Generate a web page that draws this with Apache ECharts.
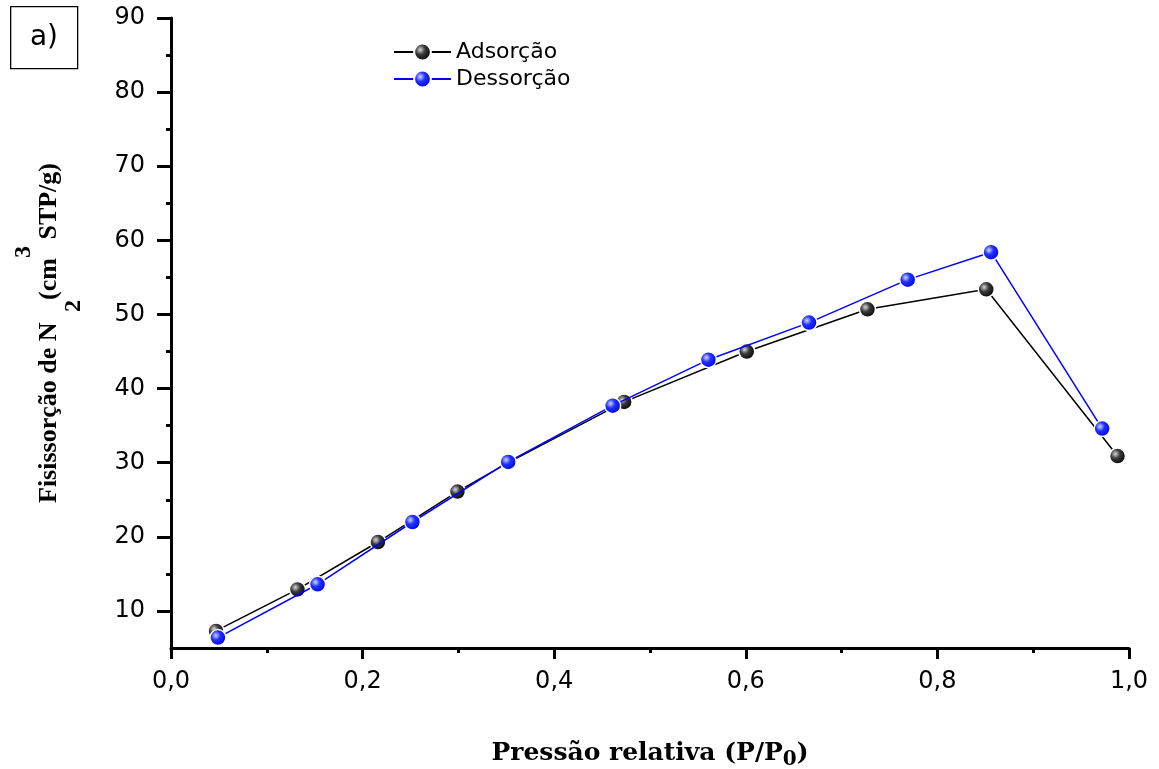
<!DOCTYPE html>
<html>
<head>
<meta charset="utf-8">
<script src="https://cdn.jsdelivr.net/npm/echarts@6/dist/echarts.min.js"></script>
<style>html,body{margin:0;padding:0;background:#fff}#c{width:1159px;height:769px}</style>
</head>
<body>
<div id="c"></div>
<script>
// ---- data ----
var adsX = [0.047, 0.132, 0.216, 0.299, 0.352, 0.473, 0.601, 0.727, 0.851, 0.988];
var adsY = [7.3, 12.9, 19.3, 26.1, 30.0, 38.2, 45.0, 50.7, 53.4, 30.9];
var desX = [0.049, 0.153, 0.252, 0.352, 0.461, 0.561, 0.666, 0.769, 0.856, 0.972];
var desY = [6.4, 13.6, 22.0, 30.1, 37.7, 43.9, 48.9, 54.7, 58.4, 34.6];
var seriesNames = ['Adsorção', 'Dessorção'];
var xTicks = [0, 0.2, 0.4, 0.6, 0.8, 1.0];
var yTicks = [10, 20, 30, 40, 50, 60, 70, 80, 90];
var yMinorTicks = [15, 25, 35, 45, 55, 65, 75, 85];

function pairs(xs, ys) { return xs.map(function (x, i) { return [x, ys[i]]; }); }
function ball(c0, c1, c2) {
  return { type: 'radial', x: 0.38, y: 0.38, r: 0.65,
    colorStops: [{ offset: 0, color: c0 }, { offset: 0.4, color: c1 }, { offset: 1, color: c2 }] };
}

var chart = echarts.init(document.getElementById('c'), null, { renderer: 'canvas' });
var tickFont = 'DejaVu Sans';
chart.setOption({
  animation: false,
  backgroundColor: '#ffffff',
  grid: { left: 171, right: 30, top: 18, bottom: 121, containLabel: false, outerBoundsMode: 'none' },
  legend: {
    orient: 'vertical', left: 393, top: 41, padding: 0, itemWidth: 57, itemHeight: 21, itemGap: 5,
    textStyle: { fontFamily: tickFont, fontSize: 22, color: '#000' },
    data: seriesNames
  },
  xAxis: {
    type: 'value', min: 0, max: 1, interval: 0.2,
    name: '{t|Pressão relativa (P/P}{s|0}{t|)}',
    nameLocation: 'middle', nameGap: 88,
    nameTextStyle: { rich: {
      t: { fontFamily: 'DejaVu Serif', fontWeight: 'bold', fontSize: 25, color: '#000', verticalAlign: 'middle', lineHeight: 34 },
      s: { fontFamily: 'DejaVu Serif', fontWeight: 'bold', fontSize: 20, color: '#000', verticalAlign: 'bottom', lineHeight: 20 }
    } },
    axisLine: { show: true, lineStyle: { color: '#000', width: 3 } },
    axisTick: { show: true, length: 11, lineStyle: { color: '#000', width: 3 } },
    minorTick: { show: true, splitNumber: 2, length: 5, lineStyle: { color: '#000', width: 3 } },
    splitLine: { show: false }, minorSplitLine: { show: false },
    axisLabel: { margin: 22, fontFamily: tickFont, fontSize: 24, color: '#000',
      formatter: function (v) { return xTicks.indexOf(Math.round(v * 10) / 10) >= 0 ? v.toFixed(1).replace('.', ',') : ''; } }
  },
  yAxis: [{
    type: 'value', min: 5, max: 90,
    name: '{t|Fisissorção de N }{sub|2}{t|(cm}{sup|3}{t| STP/g)}',
    nameLocation: 'middle', nameGap: 85, nameRotate: 90,
    nameTextStyle: { rich: {
      t: { fontFamily: 'Liberation Serif', fontWeight: 'bold', fontSize: 26, color: '#000', verticalAlign: 'middle', lineHeight: 74 },
      sub: { fontFamily: 'Liberation Serif', fontWeight: 'bold', fontSize: 24, color: '#000', verticalAlign: 'bottom', lineHeight: 24, padding: [0, 0, 0, 4] },
      sup: { fontFamily: 'Liberation Serif', fontWeight: 'bold', fontSize: 24, color: '#000', verticalAlign: 'top', lineHeight: 24 }
    } },
    axisLine: { show: true, onZero: false, lineStyle: { color: '#000', width: 3 } },
    axisTick: { show: true, length: 14, customValues: yTicks, lineStyle: { color: '#000', width: 3 } },
    splitLine: { show: false },
    axisLabel: { margin: 26, fontFamily: tickFont, fontSize: 24, color: '#000', customValues: yTicks }
  }, {
    // second axis on the same scale, only for the short minor ticks
    type: 'value', position: 'left', min: 5, max: 90,
    axisLine: { show: false },
    axisTick: { show: true, length: 5, customValues: yMinorTicks, lineStyle: { color: '#000', width: 3 } },
    axisLabel: { show: false }, splitLine: { show: false }
  }],
  series: [{
    name: seriesNames[0], type: 'line', data: pairs(adsX, adsY),
    symbol: 'circle', symbolSize: 16, z: 2,
    lineStyle: { color: '#000', width: 1.5 },
    itemStyle: { color: ball('#d8d8d8', '#3a3a3a', '#000000'), borderColor: '#ffffff', borderWidth: 1.5 }
  }, {
    name: seriesNames[1], type: 'line', data: pairs(desX, desY),
    symbol: 'circle', symbolSize: 16, z: 3,
    lineStyle: { color: '#0000ff', width: 1.5 },
    itemStyle: { color: ball('#d0d6ff', '#2030ff', '#0000d8'), borderColor: '#ffffff', borderWidth: 1.5 }
  }],
  graphic: [
    { type: 'rect', left: 10, top: 6, shape: { width: 67, height: 62 }, style: { fill: '#fff', stroke: '#000', lineWidth: 1.3 } },
    { type: 'text', x: 44, y: 38, style: { text: 'a)', font: '28px "DejaVu Sans"', fill: '#000', align: 'center', verticalAlign: 'middle' } }
  ]
});
</script>
</body>
</html>
